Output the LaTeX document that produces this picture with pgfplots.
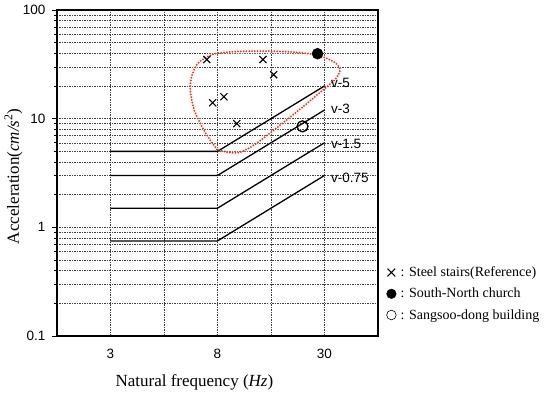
\documentclass[border=0pt]{standalone}
\usepackage{pgfplots}
\pgfplotsset{compat=1.18}
\usepackage{fontspec}
\setmainfont{Liberation Serif}
\setsansfont{Liberation Sans}
\definecolor{curvecol}{RGB}{165,80,42}
\definecolor{halo}{RGB}{255,205,215}
\begin{document}
\begin{tikzpicture}
\path[use as bounding box] (-57pt,-59pt) rectangle (493pt,336pt);
\begin{axis}[
  scale only axis, width=321pt, height=326pt,
  xmin=0, xmax=6, ymode=log, ymin=0.1, ymax=100,
  axis line style={line width=1.5pt},
  xtick={1,3,5}, xticklabels={3,8,30},
  minor xtick={0,2,4,6},
  xtick style={draw=none},
  ytick={0.1,1,10,100}, yticklabels={0.1,1,10,100},
  ytick pos=left, tick align=outside,
  major tick length=5pt, minor tick length=3pt,
  ytick style={black, line width=0.6pt},
  xmajorgrids, xminorgrids, ymajorgrids, yminorgrids,
  major grid style={black!75, line width=0.5pt, dash pattern=on 1.5pt off 1pt},
  minor grid style={black!75, line width=0.5pt, dash pattern=on 1.5pt off 1pt},
  /pgf/number format/assume math mode=true,
  tick label style={font=\sffamily\fontsize{13.5}{13.5}\selectfont},
  xticklabel style={yshift=-5pt},
  yticklabel style={xshift=-3pt},
  xlabel={Natural frequency (\textit{Hz})},
  ylabel={Acceleration(\textit{cm/s}\textsuperscript{2})},
  label style={font=\fontsize{17}{17}\selectfont},
  xlabel style={at={(rel axis cs:0.428,0)}, anchor=center, yshift=-46pt},
  ylabel style={at={(rel axis cs:0,0.49)}, anchor=center, yshift=43.5pt},
  legend style={at={(1.02,0.225)}, anchor=north west, draw=none, fill=none,
    font=\fontsize{14}{16}\selectfont, row sep=6pt, inner xsep=2pt},
  legend cell align=left,
  clip=false,
]
% halo
\addplot[halo, opacity=0.3, line width=5pt, smooth, forget plot] coordinates {
(2.99,5.22)(2.77,7.48)(2.56,12.2)(2.49,20.7)(2.62,31.6)(2.92,39.1)(3.42,41.6)(4.17,41.6)(4.79,39.1)(5.16,33.7)(5.29,28.4)(5.20,23.0)(4.92,17.5)(4.54,12.2)(4.07,7.97)(3.70,5.8)(3.42,4.9)(3.20,4.9)(2.99,5.22)};
% criteria lines
\addplot[black, line width=1.3pt, forget plot] coordinates {(1,5)(3,5)(5,20)};
\addplot[black, line width=1.3pt, forget plot] coordinates {(1,3)(3,3)(5,12)};
\addplot[black, line width=1.3pt, forget plot] coordinates {(1,1.5)(3,1.5)(5,6)};
\addplot[black, line width=1.3pt, forget plot] coordinates {(1,0.75)(3,0.75)(5,3)};
% dotted curve
\addplot[curvecol, line width=2pt, line cap=round, dash pattern=on 0pt off 2.8pt, smooth, forget plot] coordinates {
(2.99,5.22)(2.77,7.48)(2.56,12.2)(2.49,20.7)(2.62,31.6)(2.92,39.1)(3.42,41.6)(4.17,41.6)(4.79,39.1)(5.16,33.7)(5.29,28.4)(5.20,23.0)(4.92,17.5)(4.54,12.2)(4.07,7.97)(3.70,5.8)(3.42,4.9)(3.20,4.9)(2.99,5.22)};
% data points
\addplot[only marks, mark=x, mark size=5pt, mark options={line width=1.1pt, black},
  legend image code/.code={\draw[mark=x, mark size=5.5pt, mark options={line width=1pt, black}, only marks] plot coordinates {(0.15cm,0cm)};}]
  coordinates {(2.80,35)(2.91,14)(3.12,15.9)(3.36,9.0)(3.85,35)(4.05,25.4)};
\addlegendentry{\,: Steel stairs(Reference)}
\addplot[only marks, mark=*, mark size=5.5pt, mark options={black, fill=black},
  legend image code/.code={\draw[mark=*, mark size=4.8pt, mark options={black, fill=black}, only marks] plot coordinates {(0.15cm,0cm)};}]
  coordinates {(4.87,39.6)};
\addlegendentry{\,: South-North church}
\addplot[only marks, mark=o, mark size=5.5pt, mark options={black, line width=1.3pt},
  legend image code/.code={\draw[mark=o, mark size=4.8pt, mark options={black, line width=0.6pt}, only marks] plot coordinates {(0.15cm,0cm)};}]
  coordinates {(4.59,8.5)};
\addlegendentry{\,: Sangsoo-dong building}
% labels
\node[anchor=west, font=\sffamily\fontsize{13.5}{13.5}\selectfont, inner sep=0pt] at (axis cs:5.12,21.1) {v-5};
\node[anchor=west, font=\sffamily\fontsize{13.5}{13.5}\selectfont, inner sep=0pt] at (axis cs:5.12,12.2) {v-3};
\node[anchor=west, font=\sffamily\fontsize{13.5}{13.5}\selectfont, inner sep=0pt] at (axis cs:5.12,5.8) {v-1.5};
\node[anchor=west, font=\sffamily\fontsize{13.5}{13.5}\selectfont, inner sep=0pt] at (axis cs:5.12,2.88) {v-0.75};
\end{axis}
\end{tikzpicture}
\end{document}
